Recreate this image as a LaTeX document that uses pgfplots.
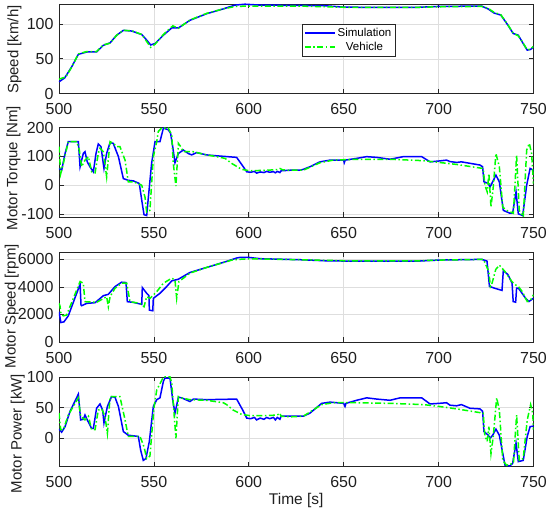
\documentclass[border=0pt]{standalone}
\usepackage{fontspec}
\setmainfont{Liberation Sans}
\usepackage{pgfplots}
\pgfplotsset{compat=1.18}
\definecolor{simblue}{rgb}{0,0,1}
\definecolor{vehgreen}{rgb}{0,1,0}
\pgfplotsset{
 myax/.style={
   scale only axis, width=474.5pt, height=89.5pt, anchor=south west,
   xmin=500, xmax=750, xtick={500,550,...,750},
   grid=major, major grid style={black!13, line width=0.6pt},
   axis line style={black!85, line width=0.7pt},
   every tick/.style={black!85, line width=0.7pt},
   major tick length=4.5pt, tick align=inside,
   tick label style={font=\fontsize{16}{19}\selectfont, text=black!88, inner sep=1pt},
   /pgf/number format/assume math mode=true,
   /pgf/number format/1000 sep={},
   scaled ticks=false,
   xticklabel style={yshift=-8.8pt},
   yticklabel style={xshift=-4.3pt},
   ylabel style={anchor=south, inner sep=0pt, font=\fontsize{15}{18}\selectfont, text=black!88},
 },
 sim/.style={color=simblue, line width=1.5pt},
 veh/.style={color=vehgreen, line width=1.5pt, dash pattern=on 6pt off 2.5pt on 1.5pt off 2.5pt},
}
\begin{document}
\begin{tikzpicture}[x=1pt,y=1pt]
\useasboundingbox (0,0) rectangle (550,517);
% ---------------- Speed
\begin{axis}[myax, at={(59pt,423.5pt)}, ymin=0, ymax=129, ytick={0,50,100},
  ylabel={Speed [km/h]}, ylabel style={at={(axis description cs:-0.0786,0.49)}},
  legend style={at={(0.512,0.776)}, anchor=north west, font=\fontsize{11.5}{13.5}\selectfont, draw=black!85, inner sep=2pt},
  legend image code/.code={\draw[mark repeat=2,mark phase=2,#1] plot coordinates {(0pt,0pt) (15pt,0pt) (30pt,0pt)};}]
\addlegendimage{sim}
\addlegendentry{Simulation}
\addlegendimage{veh}
\addlegendentry{Vehicle}
\addplot[sim, forget plot] coordinates {
(500,16.8)(503,22.5)(506.7,38.5)(510.2,56.5)(514.6,59.8)(519.8,60)(523.4,69.5)(526.9,73)
(530.4,84)(533.9,91)(538.3,90)(543.6,85)(546.2,77)(548.3,70)(550.6,72)(555,84)(559.4,94.5)
(562.9,94.5)(569,105.5)(577.8,115)(586.6,122)(592.7,127.4)(598,128.7)(605.9,127.4)(627,127)
(640,126.5)(650,124.5)(670,124)(690,124.3)(700,125.5)(722.7,126)(726,122)(729.2,116)
(732.8,113)(736.5,98.6)(739.3,86.5)(742,84)(744,74.5)(746.7,62.5)(748.5,63.5)(750,67)};
\addplot[veh, forget plot] coordinates {
(500,20.5)(502,22.5)(503.5,23.5)(506.7,38)(510.2,57)(514.6,60.5)(519.8,60.5)(523.4,70)
(526.9,72.5)(530.4,84)(533.9,91)(538.3,90.5)(543.6,85)(546.2,75)(548.3,66.5)(550.6,71)
(555,85)(558.5,94)(560,97.5)(562.9,94)(569,106)(577.8,115.5)(586.6,122)(593,125.5)(600,126)
(627,126)(650,124.3)(690,124.3)(700,125)(722.7,125.5)(726,123)(729.2,117)(732.8,113.5)
(736.5,99)(739.3,87)(742,83)(744,75)(746.7,63)(748.5,64)(750,68)};
\end{axis}
% ---------------- Torque
\begin{axis}[myax, at={(59pt,300pt)}, ymin=-110, ymax=200, ytick={-100,0,100,200},
  ylabel={Motor Torque [Nm]}, ylabel style={at={(axis description cs:-0.0807,0.547)}}]
\addplot[sim] coordinates {
(500,58)(501.4,52)(503.2,110)(504.9,151)(510.2,151)(511.1,64)(512.8,110)(513.7,116)(514.9,81)
(516.3,64)(518.1,46.5)(519.5,110)(520.7,143)(522.1,134)(523.7,58)(525.1,110)(526.9,148)
(528.6,145)(531.3,99)(533.9,23)(536.5,17)(539.2,15)(542.3,6)(543.6,-52)(544.8,-102)
(546.2,-105)(547.1,-41)(548.8,76)(550.6,151)(553.2,151)(555,198)(557.6,192)(558.8,180)
(559.9,134)(561.1,78)(562.9,110)(565.5,122)(568.1,110)(569.9,105)(572.5,113)(577.8,105)
(583,102)(593.6,96.5)(597.1,64)(598.9,46.5)(601,45)(603,48)(604.1,42)(606,46)(608,44)
(609.4,48)(611,45)(613,47)(614,43)(615,48)(616.4,44)(617,50)(621.7,52)(627,52)(628.7,55)
(632.2,64)(637.5,81)(642.8,87)(650,87)(650.3,78)(650.8,87)(656.8,93)(662.1,99)(667.4,96.5)
(674.4,90)(681.4,99)(691.1,99)(695.5,81)(700.2,84)(704.2,87)(706,82)(709.5,79)(712,81)
(716.5,76)(721.8,70)(723.2,64)(723.9,12)(726.2,6)(727.1,-6)(728.5,12)(730.2,35)(732,12)
(734.1,-87)(737.6,-97)(739,-97)(740.8,-23)(742,-99)(744.3,-105)(746.4,0)(748.2,58)(750,52)};
\addplot[veh] coordinates {
(500,134)(500.9,40)(502.3,76)(504.9,151)(509.3,151)(510.7,122)(511.9,64)(513.7,87)(515.5,99)
(517.2,46.5)(519,43)(520.7,110)(521.6,128)(523.4,116)(525.1,29)(526.9,151)(528.6,145)
(530.4,134)(532.1,134)(534.8,87)(536.5,12)(539.2,12)(543.6,0)(545.3,-41)(546.2,-93)
(547.9,-87)(549.7,99)(551.5,151)(552.3,186)(554.1,198)(557.6,198)(559.4,174)(560.2,76)
(561.6,-3)(562.9,145)(564.1,134)(565.5,116)(570.8,116)(577.8,105)(583,99)(587.5,93)
(590.9,76)(596.2,55)(600.6,50)(609.4,52)(615,54)(616.4,58)(618,53)(627,52)(628.7,52)
(637.5,78)(644.5,87)(656.8,90)(674.4,90)(692,85)(700.2,79)(709.5,72)(723.5,58)(724.4,0)
(725.6,-23)(726.5,41)(727.6,-76)(728.8,-6)(730.2,110)(732,64)(733.8,-76)(735.8,-87)
(739.4,-97)(741.1,105)(742.5,-87)(744.6,-110)(746.4,122)(747.8,145)(749,110)(750,6)};
\end{axis}
% ---------------- Motor speed
\begin{axis}[myax, at={(59pt,175pt)}, ymin=0, ymax=6500, ytick={0,2000,4000,6000},
  ylabel={Motor Speed [rpm]}, ylabel style={at={(axis description cs:-0.0843,0.40)}}]
\addplot[sim] coordinates {
(500,2195)(501,1415)(502.6,1463)(504.9,1900)(511.1,4195)(511.6,2683)(511.9,2634)(514.6,2805)
(519,2854)(523.4,3366)(526,3463)(529.5,4024)(533,4341)(535.3,4317)(536,2927)(539.2,2878)
(543.6,2732)(543.9,3951)(546.2,3537)(547.4,3366)(547.6,2317)(549.4,2268)(549.7,3171)
(553.2,3537)(556.7,4024)(559.4,4439)(562.9,4561)(569,5049)(577.8,5415)(588.3,5854)
(593.6,6098)(595.4,6146)(599.8,6146)(605.9,6049)(627,5976)(640,5900)(650,5880)(690,5880)
(700,5950)(722.7,6000)(725.5,5878)(726.8,4041)(729.2,3918)(733.4,3747)(734.1,5192)
(736.5,4898)(738.7,4286)(739.3,2939)(740.6,2890)(741.1,3918)(742,3918)(745.8,3184)
(747.6,2939)(750,3184)};
\addplot[veh] coordinates {
(500,2805)(500.5,2634)(501,2073)(502.3,1902)(504,1951)(511.1,4390)(512.8,4268)(513.7,2927)
(519.8,2878)(525.1,3293)(526,2561)(526.9,3293)(529.5,3902)(533,4268)(535.7,4268)(537.4,2927)
(542.7,2805)(544.8,2561)(546.2,3293)(548,3171)(551.5,3659)(555,4268)(559.4,4634)(561.1,4512)
(562,3171)(563.2,4390)(569,5000)(577.8,5415)(591.8,5976)(600.6,6049)(627,5976)(650,5900)
(690,5900)(700,5950)(723.6,6000)(726.4,5143)(727.3,4041)(728.2,4286)(730.1,5265)(732,5584)
(734.8,5143)(738.5,4408)(740.3,4163)(742,4041)(744,3673)(746.7,2939)(748.5,3061)(750,3429)};
\end{axis}
% ---------------- Motor power
\begin{axis}[myax, at={(59pt,50.5pt)}, ymin=-46, ymax=100, ytick={0,50,100},
  ylabel={Motor Power [kW]}, ylabel style={at={(axis description cs:-0.0717,0.366)}},
  xlabel={Time [s]},
  xlabel style={at={(axis description cs:0.5,-0.375)}, anchor=center, font=\fontsize{15.5}{18}\selectfont, text=black!88}]
\addplot[sim] coordinates {
(500,15)(501.4,10)(503.2,19)(505.8,44)(510.2,72)(511.4,30)(512.8,31)(513.7,38)(514.9,30)
(517.2,16)(518.1,16)(519.8,49)(521.6,56)(523,46)(523.7,25)(525.5,52)(527.7,68)(529.5,67)
(531.3,52)(533.9,11)(536.5,5)(541.8,3)(543,-19)(544.4,-36)(545.8,-33)(547.6,-5)(549.7,52)
(551.5,63)(553.2,66)(555,93)(555.8,98)(558.5,98)(559.9,63)(561.1,41)(562.9,67)(564.6,66)
(569,60)(570.8,64)(577.8,63)(593.6,64)(596.8,46)(598.9,33)(601,32)(603,34)(604.1,30)(606,33)
(608,31)(609.4,34)(611,32)(613,34)(614,30)(615,34)(616.4,31)(617,36)(621.7,36)(627,36)
(628.7,36)(632.2,41)(638.4,57)(642.8,59)(650,57)(650.7,52)(651.2,57)(656.8,62)(662.1,66)
(667.4,64)(674.4,62)(679.7,66)(691.1,66)(695.5,56)(700.2,57)(704.2,58)(706,54)(709.5,53)
(712,55)(716.5,49)(721.8,48)(723.2,44)(723.9,11)(726.2,5)(727.1,0)(728.5,5)(730.2,15)(732,5)
(735,-44)(737.6,-45)(739,-41)(740.8,-8)(742,-38)(744.6,-36)(746.7,3)(748.2,19)(750,20)};
\addplot[veh] coordinates {
(500,41)(500.9,14)(502.3,14)(504.9,38)(510.2,66)(511.4,36)(513.7,30)(515.5,36)(517.2,14)
(519,14)(520.7,46)(522.5,48)(524.2,36)(525.5,8)(526.9,68)(529.5,68)(532.1,68)(534.8,30)
(536.5,3)(542.7,3)(544.8,-14)(546.2,-33)(547.9,-29)(550,49)(551.5,79)(552.9,87)(555,100)
(558.5,100)(559.4,90)(560.6,41)(561.6,0)(562.9,68)(564.1,66)(569,63)(577.8,62)(586.6,58)
(588.3,55)(591.8,46)(596.2,39)(600.6,37)(609.4,37)(615,38)(616.4,41)(617,36)(621.7,35)
(628.7,36)(638.4,55)(644.5,58)(656.8,58)(674.4,57)(692,55)(700.2,52)(709.5,48)(723.5,41)
(724.4,3)(725.6,-5)(726.5,19)(727.6,-25)(728.8,3)(730.6,66)(732,46)(733.8,-36)(735.8,-44)
(739.4,-41)(741.1,38)(742.5,-36)(744.6,-33)(746.7,30)(748.5,55)(749.6,41)(750,14)};
\end{axis}
\end{tikzpicture}
\end{document}
